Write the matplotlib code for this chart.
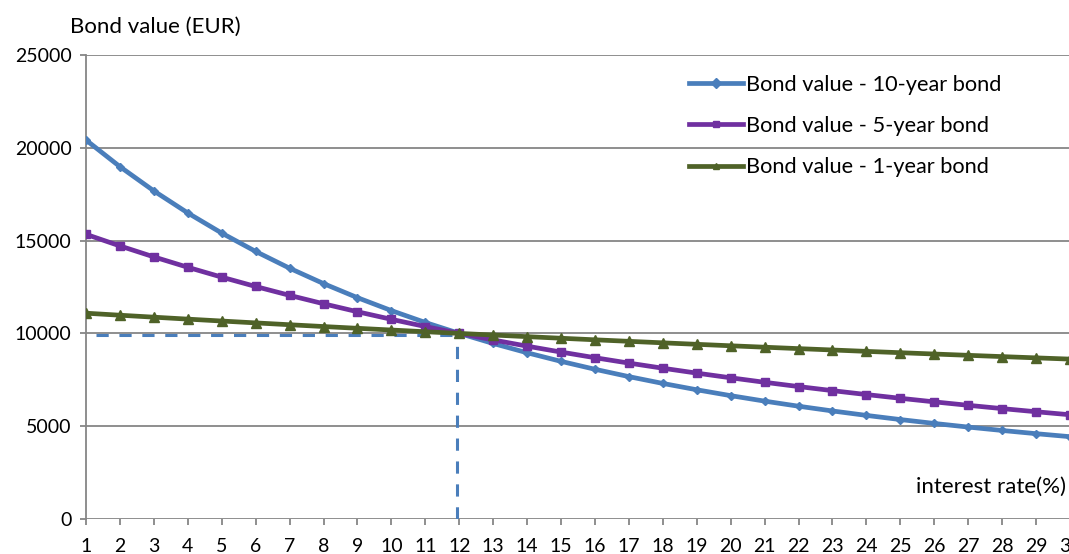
import matplotlib
matplotlib.use("Agg")
import matplotlib.pyplot as plt

plt.rcParams['font.family'] = ['Lato', 'DejaVu Sans']

# Interest rates (%) on the category axis
rates = list(range(1, 31))

# Bond values (EUR) for each maturity
value_10y = [20418, 18983, 17677, 16489, 15405, 14416, 13512, 12684, 11925, 11229,
             10589, 10000, 9457, 8957, 8494, 8067, 7671, 7304, 6963, 6646,
             6351, 6077, 5821, 5582, 5358, 5149, 4953, 4770, 4597, 4435]
value_5y = [15339, 14713, 14122, 13562, 13031, 12527, 12050, 11597, 11167, 10758,
            10370, 10000, 9648, 9313, 8994, 8690, 8400, 8124, 7860, 7608,
            7366, 7136, 6916, 6705, 6504, 6311, 6126, 5948, 5779, 5616]
value_1y = [11089, 10980, 10874, 10769, 10667, 10566, 10467, 10370, 10275, 10182,
            10090, 10000, 9912, 9825, 9739, 9655, 9573, 9492, 9412, 9333,
            9256, 9180, 9106, 9032, 8960, 8889, 8819, 8750, 8682, 8615]

series_labels = ["Bond value - 10-year bond", "Bond value - 5-year bond",
                 "Bond value - 1-year bond"]
y_ticks = [0, 5000, 10000, 15000, 20000, 25000]

# Par reference: rate where the bonds are worth their face value
par_rate = 11.93
par_value = 9920

W, H = 1069, 554
fig = plt.figure(figsize=(W / 100, H / 100), dpi=100)
ax = fig.add_axes([86 / W, 1 - 519 / H, (1070 - 86) / W, (519 - 55) / H])

grid_c = '#868686'
blue = '#4A7EBB'
purple = '#7030A0'
green = '#4F6228'

for yv in y_ticks:
    ax.axhline(yv, color=grid_c, lw=1.3, zorder=1)

# dashed guides to the par point
ax.plot([1.3, par_rate], [par_value, par_value], color=blue, lw=2.2,
        dashes=(4, 3.5), zorder=2)
ax.plot([par_rate, par_rate], [0, par_value], color=blue, lw=2.2,
        dashes=(4, 3.5), zorder=2)

ax.plot(rates, value_10y, color=blue, lw=3.4, marker='D', ms=4.5,
        label=series_labels[0], zorder=3)
ax.plot(rates, value_5y, color=purple, lw=3.4, marker='s', ms=6,
        label=series_labels[1], zorder=4)
ax.plot(rates, value_1y, color=green, lw=3.4, marker='^', ms=6.5,
        label=series_labels[2], zorder=5)

ax.set_xlim(1, 30)
ax.set_ylim(0, 25000)
ax.set_xticks(rates)
ax.set_xticklabels([str(r) for r in rates])
ax.set_yticks(y_ticks)
ax.set_yticklabels([str(v) for v in y_ticks])

for s in ['top', 'right', 'bottom']:
    ax.spines[s].set_visible(False)
ax.spines['left'].set_color(grid_c)
ax.spines['left'].set_linewidth(1.3)
ax.tick_params(axis='x', length=4.5, width=1.3, color=grid_c, labelsize=14,
               pad=9, direction='out')
ax.tick_params(axis='y', length=4.5, width=1.3, color=grid_c, labelsize=14,
               pad=6, direction='out')

fig.text(70 / W, 1 - 27 / H, "Bond value (EUR)", fontsize=16, va='center',
         ha='left')
fig.text(1066 / W, 1 - 487 / H, "interest rate(%)", fontsize=16, va='center',
         ha='right')

leg = ax.legend(loc='upper left',
                bbox_to_anchor=((680 - 86) / (1070 - 86), 1 - (66 - 55) / 464),
                frameon=False, fontsize=15.7, handlelength=2.5, handletextpad=0.12,
                labelspacing=0.98, borderaxespad=0)
for h in leg.legend_handles:
    h.set_markersize(5)

fig.savefig("out.png", dpi=100, facecolor='white')
